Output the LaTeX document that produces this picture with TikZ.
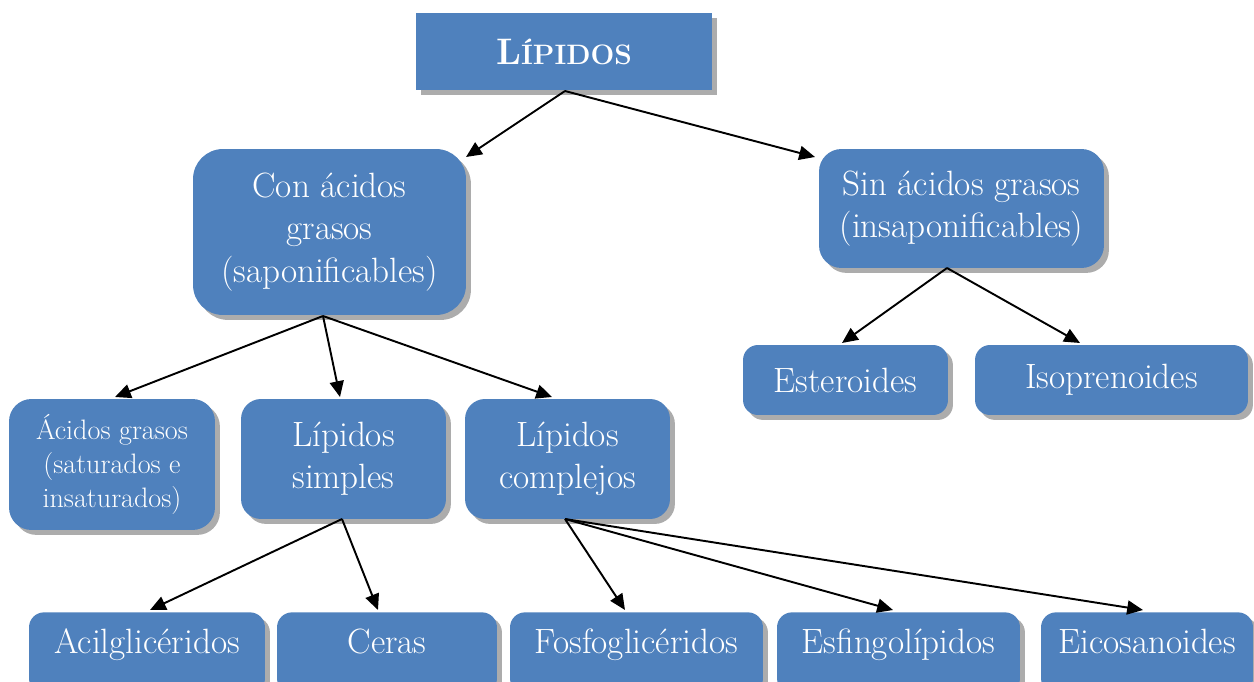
\documentclass[tikz,border=0pt]{standalone}
\usetikzlibrary{arrows.meta,shadows}
\definecolor{boxblue}{RGB}{79,129,189}
\begin{document}
\begin{tikzpicture}[x=0.02cm,y=-0.02cm,
  box/.style={fill=boxblue, draw=none, text=white, align=center, inner sep=0pt,
    font=\fontsize{20}{24}\selectfont,
    drop shadow={shadow xshift=2.8pt, shadow yshift=-2.8pt, fill=gray!65, opacity=1}},
  rc/.style={rounded corners=#1},
  low/.style={box, anchor=north, minimum height=0pt, text height=0.82cm, text depth=0.8cm, rounded corners=0.3cm},
  arr/.style={line width=1.1pt, -{Triangle[length=9pt,width=8pt]}}]
\useasboundingbox (0,0) rectangle (1254,682);
\clip (0,0) rectangle (1254,682);
\node[box, minimum width=5.92cm, minimum height=1.54cm] (lip) at (564,51.5)
  {\bfseries\fontsize{21}{21}\selectfont L\fontsize{16}{16}\selectfont ÍPIDOS};
\node[box, rc=0.6cm, minimum width=5.46cm, minimum height=3.32cm] (con) at (329.5,232)
  {Con ácidos\\grasos\\(saponificables)};
\node[box, rc=0.45cm, minimum width=5.7cm, minimum height=2.38cm] (sin) at (961.5,208.5)
  {Sin ácidos grasos\\(insaponificables)};
\node[box, rc=0.3cm, minimum width=4.1cm, minimum height=1.4cm] (est) at (845.5,380) {Esteroides};
\node[box, rc=0.3cm, minimum width=5.46cm, minimum height=1.4cm] (iso) at (1111.5,380) {Isoprenoides};
\node[box, rc=0.45cm, minimum width=4.12cm, minimum height=2.62cm, font=\fontsize{16}{19.5}\selectfont] (aci) at (112,464.5)
  {Ácidos grasos\\(saturados e\\insaturados)};
\node[box, rc=0.4cm, minimum width=4.1cm, minimum height=2.4cm] (sim) at (343.5,459) {Lípidos\\simples};
\node[box, rc=0.4cm, minimum width=4.1cm, minimum height=2.4cm] (com) at (567.5,459) {Lípidos\\complejos};
\node[low, minimum width=4.72cm] (acil) at (147,612) {Acilglicéridos};
\node[low, minimum width=4.4cm] (cer) at (387,612) {Ceras};
\node[low, minimum width=5.06cm] (fos) at (636.5,612) {Fosfoglicéridos};
\node[low, minimum width=4.86cm] (esf) at (898.5,612) {Esfingolípidos};
\node[low, minimum width=4.24cm] (eic) at (1147,612) {Eicosanoides};
% sources and targets
\coordinate (s-lip) at (565,91);
\coordinate (t-con) at (466,157);
\coordinate (t-sin) at (815,157);
\coordinate (s-con) at (323,316);
\coordinate (t-aci) at (115,397);
\coordinate (t-sim) at (340,397);
\coordinate (t-com) at (552,397);
\coordinate (s-sin) at (947,268);
\coordinate (t-est) at (842,343);
\coordinate (t-iso) at (1080,343);
\coordinate (s-sim) at (342,519);
\coordinate (t-acil) at (150,610);
\coordinate (t-cer) at (378,610);
\coordinate (s-com) at (565,519);
\coordinate (t-fos) at (625,610);
\coordinate (t-esf) at (893,610);
\coordinate (t-eic) at (1143,610);
\foreach \s/\t in {lip/con,lip/sin,con/aci,con/sim,con/com,sin/est,sin/iso,sim/acil,sim/cer,com/fos,com/esf,com/eic}
  \draw[arr] (s-\s) -- (t-\t);
\end{tikzpicture}
\end{document}
